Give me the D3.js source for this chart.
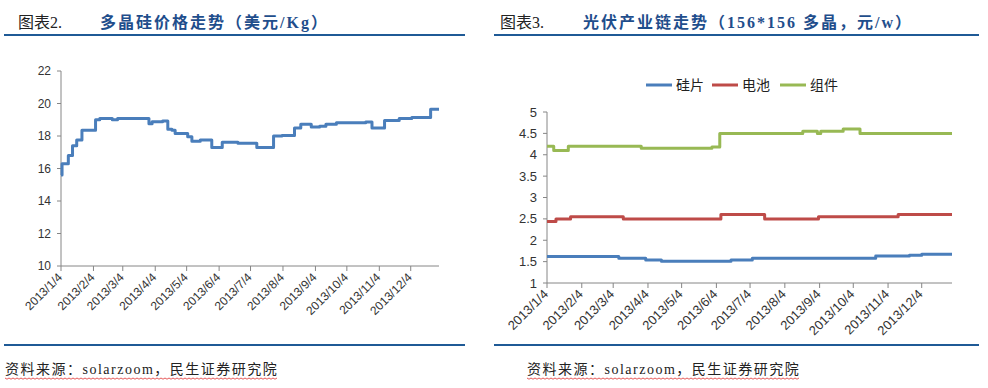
<!DOCTYPE html>
<html>
<head>
<meta charset="utf-8">
<script src="https://cdn.jsdelivr.net/npm/d3@7"></script>
<style>
  body { margin: 0; background: #fff; }
  svg { display: block; }
</style>
</head>
<body>
<div id="chart"></div>
<script>
// polysilicon price, USD/kg (step changes)
const polyDates = ['2013-01-04','2013-01-05','2013-01-11','2013-01-15','2013-01-19','2013-01-24','2013-02-06','2013-02-10',
  '2013-02-22','2013-02-27','2013-03-29','2013-04-01','2013-04-11','2013-04-16','2013-04-20','2013-04-23','2013-05-05',
  '2013-05-09','2013-05-17','2013-05-28','2013-06-07','2013-06-22','2013-07-10','2013-07-26','2013-08-03','2013-08-15',
  '2013-08-21','2013-08-31','2013-09-08','2013-09-14','2013-09-24','2013-10-22','2013-10-28','2013-11-09','2013-11-23',
  '2013-12-05','2013-12-23','2013-12-31'];
const polyValues = [15.6,16.3,16.8,17.4,17.75,18.35,19.0,19.08,19.0,19.08,18.75,18.88,18.92,18.42,18.35,18.15,17.95,
  17.68,17.75,17.3,17.62,17.55,17.3,18.0,18.03,18.5,18.73,18.55,18.6,18.73,18.82,18.86,18.5,18.96,19.08,19.14,19.64,19.64];

// chain prices, CNY/W
const waferDates = ['2013-01-04','2013-03-09','2013-04-02','2013-04-16','2013-06-17','2013-07-06','2013-10-24','2013-11-23','2013-12-04','2013-12-31'];
const waferValues = [1.62,1.58,1.54,1.51,1.54,1.58,1.63,1.65,1.67,1.67];
const cellDates = ['2013-01-04','2013-01-12','2013-01-25','2013-03-13','2013-06-08','2013-07-17','2013-09-03','2013-11-13','2013-12-31'];
const cellValues = [2.44,2.5,2.55,2.5,2.6,2.5,2.55,2.6,2.6];
const moduleDates = ['2013-01-04','2013-01-10','2013-01-23','2013-03-29','2013-05-31','2013-06-07','2013-08-20','2013-09-02','2013-09-05','2013-09-25','2013-10-10','2013-12-31'];
const moduleValues = [4.2,4.1,4.2,4.15,4.18,4.5,4.55,4.5,4.55,4.6,4.5,4.5];

const seriesNames = ['硅片', '电池', '组件'];
const seriesColors = ['#4a7ebb', '#be4b48', '#98b954'];
const monthTicks = ['2013-01-04','2013-02-04','2013-03-04','2013-04-04','2013-05-04','2013-06-04','2013-07-04',
  '2013-08-04','2013-09-04','2013-10-04','2013-11-04','2013-12-04'];
const leftYTicks = [10, 12, 14, 16, 18, 20, 22];
const rightYTicks = [1, 1.5, 2, 2.5, 3, 3.5, 4, 4.5, 5];

const parse = d3.timeParse('%Y-%m-%d');
const fmt = d => `${d.getFullYear()}/${d.getMonth() + 1}/${d.getDate()}`;
const zip = (ds, vs) => ds.map((d, i) => ({date: parse(d), value: vs[i]}));

const svg = d3.select('#chart').append('svg').attr('width', 988).attr('height', 388);
const serif = '"Liberation Serif", "Noto Sans CJK SC", serif';
const sans = '"Liberation Sans", "Noto Sans CJK SC", sans-serif';
const axisGray = '#868686';

// panel frames: headers, rules, source
function panel(x0, x1, label, labelX, title, titleX, srcX) {
  svg.append('text').attr('x', labelX).attr('y', 28).attr('font-family', serif).attr('font-size', 16)
    .attr('fill', '#222').text(label);
  svg.append('text').attr('x', titleX).attr('y', 28).attr('font-family', serif).attr('font-size', 16)
    .attr('letter-spacing', 2).attr('font-weight', 'bold').attr('fill', '#1f4e8c').text(title);
  [35, 345].forEach(y => svg.append('line').attr('x1', x0).attr('x2', x1).attr('y1', y).attr('y2', y)
    .attr('stroke', '#1f5a96').attr('stroke-width', 2));
  const src = svg.append('text').attr('x', srcX).attr('y', 374).attr('font-family', serif).attr('font-size', 14)
    .attr('letter-spacing', 1.5).attr('fill', '#222').text('资料来源：solarzoom，民生证券研究院');
  const w = src.node().getComputedTextLength();
  const pts = d3.range(0, Math.floor(w / 2) + 1).map(i => [srcX + i * 2, 378 + (i % 2 ? 1.2 : 0)]);
  svg.append('path').attr('d', d3.line()(pts)).attr('fill', 'none').attr('stroke', '#e03030').attr('stroke-width', 0.8);
}

panel(4, 465, '图表2.', 18, '多晶硅价格走势（美元/Kg）', 100, 5);
panel(494, 979, '图表3.', 500, '光伏产业链走势（156*156 多晶，元/w）', 583, 527);

function axes(x, y, yTicks, yFmt, fontSize, labelDy) {
  const [r0, r1] = x.range();
  const [b, t] = y.range();
  const g = svg.append('g');
  g.append('line').attr('x1', r0).attr('x2', r0).attr('y1', b).attr('y2', t).attr('stroke', axisGray);
  g.append('line').attr('x1', r0).attr('x2', r1).attr('y1', b).attr('y2', b).attr('stroke', axisGray);
  yTicks.forEach(v => {
    g.append('line').attr('x1', r0 - 4).attr('x2', r0).attr('y1', y(v)).attr('y2', y(v)).attr('stroke', axisGray);
    g.append('text').attr('x', r0 - 10).attr('y', y(v)).attr('dy', '0.35em').attr('text-anchor', 'end')
      .attr('font-family', sans).attr('font-size', fontSize).attr('fill', '#333').text(yFmt(v));
  });
  monthTicks.map(parse).forEach(d => {
    const px = x(d);
    g.append('line').attr('x1', px).attr('x2', px).attr('y1', b).attr('y2', b + 5).attr('stroke', axisGray);
    g.append('text').attr('transform', `translate(${px + 2},${b + labelDy}) rotate(-45)`).attr('text-anchor', 'end')
      .attr('font-family', sans).attr('font-size', fontSize).attr('fill', '#333').text(fmt(d));
  });
}

const domain = [parse('2013-01-04'), parse('2013-12-31')];

// left: polysilicon
const x1 = d3.scaleTime().domain(domain).range([61, 439]);
const y1 = d3.scaleLinear().domain([10, 22]).range([266, 71]);
axes(x1, y1, leftYTicks, d => d, 12, 12);
svg.append('path').datum(zip(polyDates, polyValues))
  .attr('d', d3.line().x(d => x1(d.date)).y(d => y1(d.value)).curve(d3.curveStepAfter))
  .attr('fill', 'none').attr('stroke', '#4a7ebb').attr('stroke-width', 3).attr('stroke-linejoin', 'round');

// right: wafer / cell / module
const x2 = d3.scaleTime().domain(domain).range([547, 952]);
const y2 = d3.scaleLinear().domain([1, 5]).range([283, 112]);
axes(x2, y2, rightYTicks, d => d, 13, 12);
const chain = [zip(waferDates, waferValues), zip(cellDates, cellValues), zip(moduleDates, moduleValues)];
chain.forEach((s, i) => {
  svg.append('path').datum(s)
    .attr('d', d3.line().x(d => x2(d.date)).y(d => y2(d.value)).curve(d3.curveStepAfter))
    .attr('fill', 'none').attr('stroke', seriesColors[i]).attr('stroke-width', 3).attr('stroke-linejoin', 'round');
});

// legend
const legendX = [646, 712, 780];
seriesNames.forEach((n, i) => {
  svg.append('line').attr('x1', legendX[i]).attr('x2', legendX[i] + 26).attr('y1', 85).attr('y2', 85)
    .attr('stroke', seriesColors[i]).attr('stroke-width', 3);
  svg.append('text').attr('x', legendX[i] + 30).attr('y', 85).attr('dy', '0.35em')
    .attr('font-family', sans).attr('font-size', 14).attr('fill', '#222').text(n);
});
</script>
</body>
</html>
